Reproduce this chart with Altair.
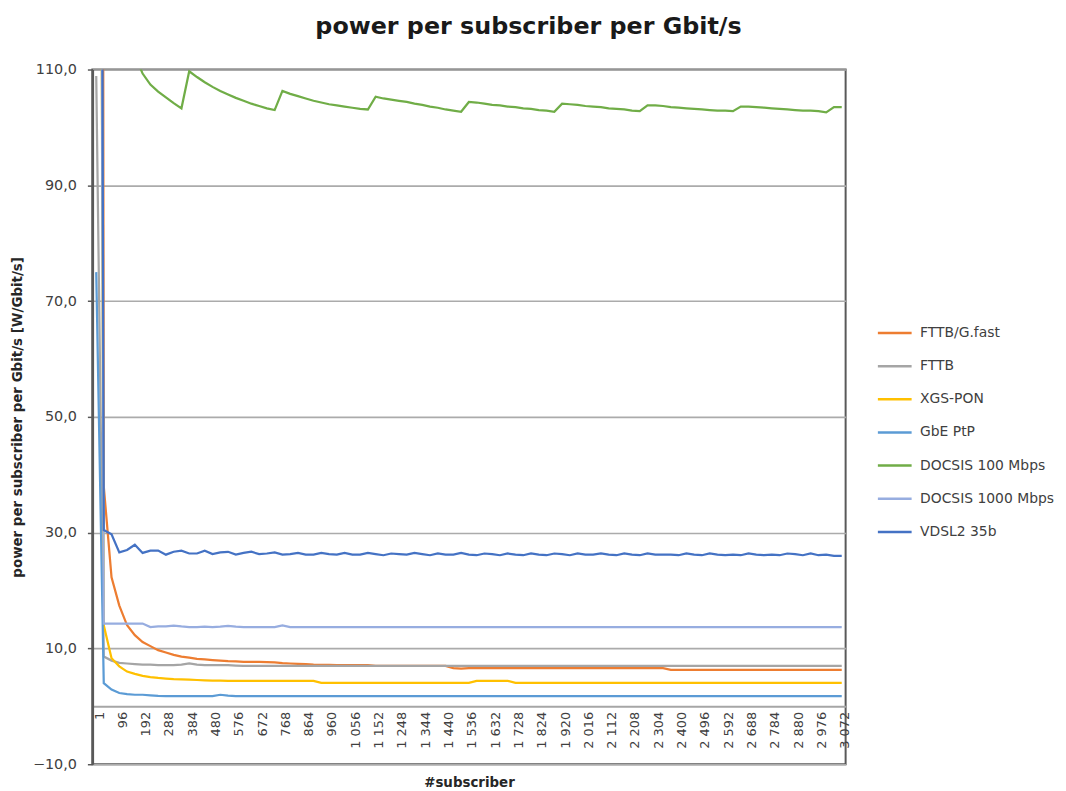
import altair as alt
import pandas as pd

# categories (#subscriber)
subscribers = [1, 32, 64, 96, 128, 160, 192, 224, 256, 288,
               320, 352, 384, 416, 448, 480, 512, 544, 576, 608,
               640, 672, 704, 736, 768, 800, 832, 864, 896, 928,
               960, 992, 1024, 1056, 1088, 1120, 1152, 1184, 1216, 1248,
               1280, 1312, 1344, 1376, 1408, 1440, 1472, 1504, 1536, 1568,
               1600, 1632, 1664, 1696, 1728, 1760, 1792, 1824, 1856, 1888,
               1920, 1952, 1984, 2016, 2048, 2080, 2112, 2144, 2176, 2208,
               2240, 2272, 2304, 2336, 2368, 2400, 2432, 2464, 2496, 2528,
               2560, 2592, 2624, 2656, 2688, 2720, 2752, 2784, 2816, 2848,
               2880, 2912, 2944, 2976, 3008, 3040, 3072]

x_tick_values = [1, 96, 192, 288, 384, 480, 576, 672, 768, 864, 960, 1056, 1152, 1248, 1344,
                 1440, 1536, 1632, 1728, 1824, 1920, 2016, 2112, 2208, 2304, 2400, 2496, 2592,
                 2688, 2784, 2880, 2976, 3072]
y_tick_values = [-10, 10, 30, 50, 70, 90, 110]

series_names = ["FTTB/G.fast", "FTTB", "XGS-PON", "GbE PtP", "DOCSIS 100 Mbps",
                "DOCSIS 1000 Mbps", "VDSL2 35b"]
series_colors = ["#ED7D31", "#A5A5A5", "#FFC000", "#5B9BD5", "#70AD47", "#97ADE0", "#4472C4"]

fttb_gfast = [1100, 38.0, 22.3, 17.4, 14.0, 12.3, 11.1, 10.4, 9.7, 9.3,
              8.9, 8.6, 8.4, 8.2, 8.1, 8.0, 7.9, 7.8, 7.75, 7.7,
              7.7, 7.7, 7.65, 7.6, 7.45, 7.4, 7.35, 7.3, 7.2, 7.15,
              7.15, 7.1, 7.1, 7.1, 7.1, 7.1, 7.0, 7.0, 7.0, 7.0,
              7.0, 7.0, 7.0, 7.0, 7.0, 7.0, 6.6, 6.5, 6.6, 6.6,
              6.6, 6.6, 6.6, 6.6, 6.6, 6.6, 6.6, 6.6, 6.6, 6.6,
              6.6, 6.6, 6.6, 6.6, 6.6, 6.6, 6.6, 6.6, 6.6, 6.6,
              6.6, 6.6, 6.6, 6.6, 6.3, 6.3, 6.3, 6.3, 6.3, 6.3,
              6.3, 6.3, 6.3, 6.3, 6.3, 6.3, 6.3, 6.3, 6.3, 6.3,
              6.3, 6.3, 6.3, 6.3, 6.3, 6.3, 6.3]

fttb = [108.9, 8.6, 7.9, 7.5, 7.4, 7.3, 7.2, 7.2, 7.1, 7.1,
        7.1, 7.2, 7.4, 7.2, 7.1, 7.1, 7.1, 7.1, 7.05, 7.0,
        7.0, 7.0, 7.0, 7.0, 7.0, 7.0, 7.0, 7.0, 7.0, 7.0,
        7.0, 7.0, 7.0, 7.0, 7.0, 7.0, 7.0, 7.0, 7.0, 7.0,
        7.0, 7.0, 7.0, 7.0, 7.0, 7.0, 7.0, 7.0, 7.0, 7.0,
        7.0, 7.0, 7.0, 7.0, 7.0, 7.0, 7.0, 7.0, 7.0, 7.0,
        7.0, 7.0, 7.0, 7.0, 7.0, 7.0, 7.0, 7.0, 7.0, 7.0,
        7.0, 7.0, 7.0, 7.0, 7.0, 7.0, 7.0, 7.0, 7.0, 7.0,
        7.0, 7.0, 7.0, 7.0, 7.0, 7.0, 7.0, 7.0, 7.0, 7.0,
        7.0, 7.0, 7.0, 7.0, 7.0, 7.0, 7.0]

xgs_pon = [380, 14.0, 8.3, 6.9, 6.0, 5.6, 5.25, 5.05, 4.9, 4.8,
           4.7, 4.65, 4.6, 4.55, 4.5, 4.45, 4.45, 4.4, 4.4, 4.4,
           4.4, 4.4, 4.4, 4.4, 4.4, 4.4, 4.4, 4.4, 4.4, 4.05,
           4.05, 4.05, 4.05, 4.05, 4.05, 4.05, 4.05, 4.05, 4.05, 4.05,
           4.05, 4.05, 4.05, 4.05, 4.05, 4.05, 4.05, 4.05, 4.05, 4.4,
           4.4, 4.4, 4.4, 4.4, 4.05, 4.05, 4.05, 4.05, 4.05, 4.05,
           4.05, 4.05, 4.05, 4.05, 4.05, 4.05, 4.05, 4.05, 4.05, 4.05,
           4.05, 4.05, 4.05, 4.05, 4.05, 4.05, 4.05, 4.05, 4.05, 4.05,
           4.05, 4.05, 4.05, 4.05, 4.05, 4.05, 4.05, 4.05, 4.05, 4.05,
           4.05, 4.05, 4.05, 4.05, 4.05, 4.05, 4.05]

gbe_ptp = [75, 4.0, 2.9, 2.3, 2.1, 2.0, 2.0, 1.9, 1.8, 1.75,
           1.75, 1.75, 1.75, 1.75, 1.75, 1.75, 2.0, 1.85, 1.75, 1.75,
           1.75, 1.75, 1.75, 1.75, 1.75, 1.75, 1.75, 1.75, 1.75, 1.75,
           1.75, 1.75, 1.75, 1.75, 1.75, 1.75, 1.75, 1.75, 1.75, 1.75,
           1.75, 1.75, 1.75, 1.75, 1.75, 1.75, 1.75, 1.75, 1.75, 1.75,
           1.75, 1.75, 1.75, 1.75, 1.75, 1.75, 1.75, 1.75, 1.75, 1.75,
           1.75, 1.75, 1.75, 1.75, 1.75, 1.75, 1.75, 1.75, 1.75, 1.75,
           1.75, 1.75, 1.75, 1.75, 1.75, 1.75, 1.75, 1.75, 1.75, 1.75,
           1.75, 1.75, 1.75, 1.75, 1.75, 1.75, 1.75, 1.75, 1.75, 1.75,
           1.75, 1.75, 1.75, 1.75, 1.75, 1.75, 1.75]

docsis_100 = [3000, 500, 250, 170, 130, 112.5, 109.3, 107.4, 106.2, 105.2,
              104.2, 103.3, 109.7, 108.7, 107.8, 107.0, 106.3, 105.7, 105.1, 104.6,
              104.1, 103.7, 103.3, 103.0, 106.3, 105.8, 105.4, 105.0, 104.6, 104.3,
              104.0, 103.8, 103.6, 103.4, 103.2, 103.1, 105.3, 105.0, 104.8, 104.6,
              104.4, 104.1, 103.9, 103.6, 103.4, 103.1, 102.9, 102.7, 104.4, 104.3,
              104.1, 103.9, 103.8, 103.6, 103.5, 103.3, 103.2, 103.0, 102.9, 102.7,
              104.1, 104.0, 103.9, 103.7, 103.6, 103.5, 103.3, 103.2, 103.1, 102.9,
              102.8, 103.8, 103.8, 103.7, 103.5, 103.4, 103.3, 103.2, 103.1, 103.0,
              102.9, 102.9, 102.8, 103.6, 103.6, 103.5, 103.4, 103.3, 103.2, 103.1,
              103.0, 102.9, 102.9, 102.8, 102.6, 103.5, 103.5]

docsis_1000 = [400, 14.3, 14.3, 14.3, 14.3, 14.3, 14.3, 13.7, 13.8, 13.8,
               13.95, 13.8, 13.7, 13.7, 13.75, 13.7, 13.75, 13.9, 13.75, 13.7,
               13.7, 13.7, 13.7, 13.7, 14.0, 13.7, 13.7, 13.7, 13.7, 13.7,
               13.7, 13.7, 13.7, 13.7, 13.7, 13.7, 13.7, 13.7, 13.7, 13.7,
               13.7, 13.7, 13.7, 13.7, 13.7, 13.7, 13.7, 13.7, 13.7, 13.7,
               13.7, 13.7, 13.7, 13.7, 13.7, 13.7, 13.7, 13.7, 13.7, 13.7,
               13.7, 13.7, 13.7, 13.7, 13.7, 13.7, 13.7, 13.7, 13.7, 13.7,
               13.7, 13.7, 13.7, 13.7, 13.7, 13.7, 13.7, 13.7, 13.7, 13.7,
               13.7, 13.7, 13.7, 13.7, 13.7, 13.7, 13.7, 13.7, 13.7, 13.7,
               13.7, 13.7, 13.7, 13.7, 13.7, 13.7, 13.7]

vdsl2_35b = [500, 30.45, 29.7, 26.6, 27.0, 27.9, 26.5, 26.9, 26.9, 26.2,
             26.7, 26.9, 26.4, 26.4, 26.9, 26.3, 26.6, 26.7, 26.2, 26.5,
             26.7, 26.3, 26.4, 26.6, 26.2, 26.3, 26.5, 26.2, 26.2, 26.5,
             26.3, 26.2, 26.5, 26.2, 26.2, 26.5, 26.3, 26.1, 26.4, 26.3,
             26.2, 26.5, 26.3, 26.1, 26.4, 26.2, 26.2, 26.5, 26.2, 26.1,
             26.4, 26.3, 26.1, 26.4, 26.2, 26.1, 26.4, 26.2, 26.1, 26.4,
             26.3, 26.1, 26.4, 26.2, 26.2, 26.4, 26.2, 26.1, 26.4, 26.2,
             26.1, 26.4, 26.2, 26.2, 26.2, 26.1, 26.4, 26.2, 26.1, 26.4,
             26.2, 26.1, 26.2, 26.1, 26.4, 26.2, 26.1, 26.2, 26.1, 26.4,
             26.3, 26.1, 26.4, 26.1, 26.2, 26.0, 26.0]

series_values = [fttb_gfast, fttb, xgs_pon, gbe_ptp, docsis_100, docsis_1000, vdsl2_35b]

rows = []
for name, vals in zip(series_names, series_values):
    for s, v in zip(subscribers, vals):
        rows.append({"subscriber": s, "value": v, "series": name})
df = pd.DataFrame(rows)

TEXT = "#404040"
FONT = "DejaVu Sans"

chart = alt.Chart(df).mark_line(strokeWidth=2.25, clip=True).encode(
    x=alt.X(
        "subscriber:Q",
        scale=alt.Scale(domain=[-15, 3088], nice=False, zero=False),
        axis=alt.Axis(
            values=x_tick_values,
            labelExpr="replace(format(datum.value, ','), ',', ' ')",
            labelAngle=270, labelAlign="right", labelBaseline="middle",
            labelOffset=3, labelPadding=5, labelFontSize=13, labelColor=TEXT,
            labelOverlap=False, labelFlush=False,
            ticks=False, grid=False,
            offset=-58.33, domainColor="#A6A6A6", domainWidth=2,
            title="#subscriber", titleFontWeight="bold", titleFontSize=13.5,
            titleColor="#262626", titleY=77, titleBaseline="middle",
        ),
    ),
    y=alt.Y(
        "value:Q",
        scale=alt.Scale(domain=[-10, 110], nice=False, zero=False),
        axis=alt.Axis(
            values=y_tick_values,
            labelExpr="replace(format(datum.value, '.1f'), '.', ',')",
            labelFontSize=14.5, labelColor=TEXT, labelPadding=11,
            tickColor="#595959", tickSize=5, tickWidth=1.5,
            domainColor="#595959", domainWidth=2.5,
            grid=True, gridColor="#ABABAB", gridWidth=1.6,
            title="power per subscriber per Gbit/s [W/Gbit/s]",
            titleFontWeight="bold", titleFontSize=13.5, titleColor="#262626",
            titleAngle=270, titleX=-75, titleY=350, titleAlign="center",
            titleBaseline="middle",
        ),
    ),
    color=alt.Color(
        "series:N",
        sort=series_names,
        scale=alt.Scale(domain=series_names, range=series_colors),
        legend=alt.Legend(
            title=None, orient="none", legendX=790, legendY=247, direction="vertical",
            symbolType="stroke", symbolSize=1156, symbolStrokeWidth=2.5,
            labelFontSize=14, labelColor=TEXT, labelOffset=7, rowPadding=7.4,
            padding=0, labelFont=FONT,
        ),
    ),
).properties(
    width=759,
    height=700,
    padding={"left": 85, "top": 59, "right": 214, "bottom": 26},
    autosize=alt.AutoSizeParams(type="none"),
    title=alt.TitleParams(
        "power per subscriber per Gbit/s", fontSize=24, font=FONT, fontWeight="bold",
        color="#1a1a1a", anchor="middle", frame="group", dx=60, offset=4,
        baseline="alphabetic",
    ),
).configure(
    font=FONT,
    background="white",
).configure_view(
    stroke="#595959", strokeWidth=2,
)

chart.save("out.html", embed_options={"renderer": "svg", "actions": False})
